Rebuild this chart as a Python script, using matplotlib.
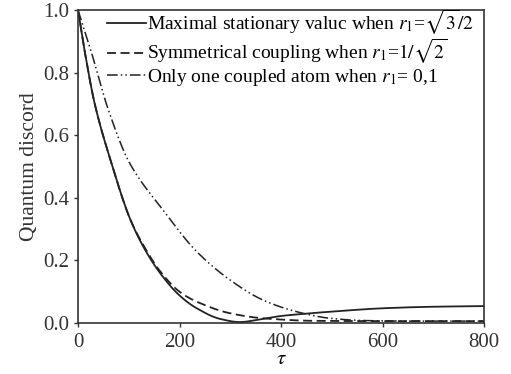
import numpy as np
import matplotlib
matplotlib.use("Agg")
import matplotlib.pyplot as plt

plt.rcParams["font.family"] = ["Liberation Serif", "DejaVu Serif"]
plt.rcParams["mathtext.fontset"] = "stix"

# Curves
tau_max = [0, 13, 33, 66, 102, 130, 162, 200, 234, 280, 319, 360, 398, 450, 497, 600, 700, 800]
qd_max = [1.0, 0.87, 0.70, 0.51, 0.335, 0.24, 0.159, 0.088, 0.047, 0.013, 0.003, 0.012, 0.022, 0.030, 0.036, 0.047, 0.052, 0.054]

tau_sym = [0, 13, 33, 66, 102, 130, 162, 200, 234, 300, 365, 463, 600, 800]
qd_sym = [1.0, 0.87, 0.70, 0.51, 0.335, 0.245, 0.165, 0.10, 0.068, 0.031, 0.015, 0.007, 0.006, 0.006]

tau_one = [0, 26, 60, 102, 168, 234, 300, 365, 431, 497, 560, 650, 800]
qd_one = [1.0, 0.867, 0.68, 0.51, 0.36, 0.228, 0.137, 0.073, 0.036, 0.015, 0.008, 0.006, 0.006]

labels = [
    r"Maximal stationary valuc when $r_1$=$\sqrt{3}/2$",
    r"Symmetrical coupling when $r_1$=$1/\sqrt{2}$",
    r"Only one coupled atom when $r_1$= 0,1",
]


def smooth(xs, ys):
    # monotone cubic through the read points
    xs = np.asarray(xs, float)
    ys = np.asarray(ys, float)
    xx = np.linspace(xs[0], xs[-1], 600)
    n = len(xs)
    d = np.zeros(n)
    h = np.diff(xs)
    s = np.diff(ys) / h
    d[0], d[-1] = s[0], s[-1]
    for i in range(1, n - 1):
        if s[i - 1] * s[i] <= 0:
            d[i] = 0
        else:
            d[i] = 2 / (1 / s[i - 1] + 1 / s[i])
    idx = np.clip(np.searchsorted(xs, xx) - 1, 0, n - 2)
    t = (xx - xs[idx]) / h[idx]
    h00 = 2 * t**3 - 3 * t**2 + 1
    h10 = t**3 - 2 * t**2 + t
    h01 = -2 * t**3 + 3 * t**2
    h11 = t**3 - t**2
    yy = h00 * ys[idx] + h10 * h[idx] * d[idx] + h01 * ys[idx + 1] + h11 * h[idx] * d[idx + 1]
    return xx, yy


fig = plt.figure(figsize=(5.11, 3.74), dpi=100)
ax = fig.add_axes([78 / 511, 1 - 323 / 374, 406 / 511, 313 / 374])

x, y = smooth(tau_max, qd_max)
ax.plot(x, y, color="#222222", lw=1.3, ls="-", label=labels[0])
x, y = smooth(tau_sym, qd_sym)
ax.plot(x, y, color="#222222", lw=1.3, ls=(0, (5, 2.5)), label=labels[1])
x, y = smooth(tau_one, qd_one)
ax.plot(x, y, color="#222222", lw=1.1, ls=(0, (7, 2, 1, 2, 1, 2)), label=labels[2])

ax.set_xlim(0, 800)
ax.set_ylim(0, 1.0)
ax.set_xticks([0, 200, 400, 600, 800])
ax.set_yticks([0.0, 0.2, 0.4, 0.6, 0.8, 1.0])
ax.set_yticklabels(["0.0", "0.2", "0.4", "0.6", "0.8", "1.0"])
ax.tick_params(direction="out", length=3, width=1, labelsize=15, colors="#333333")
ax.tick_params(axis="x", pad=4)
for sp in ax.spines.values():
    sp.set_linewidth(1.2)
    sp.set_color("#333333")

ax.set_xlabel(r"$\tau$", fontsize=15, labelpad=-1)
ax.set_ylabel("Quantum discord", fontsize=15.5, color="#333333", labelpad=3)

ax.legend(loc="upper left", bbox_to_anchor=(0.038, 1.05), frameon=False,
          fontsize=14, handlelength=2.0, handletextpad=0.05,
          labelspacing=0.02, borderaxespad=0.3)

fig.savefig("out.png", dpi=100)
